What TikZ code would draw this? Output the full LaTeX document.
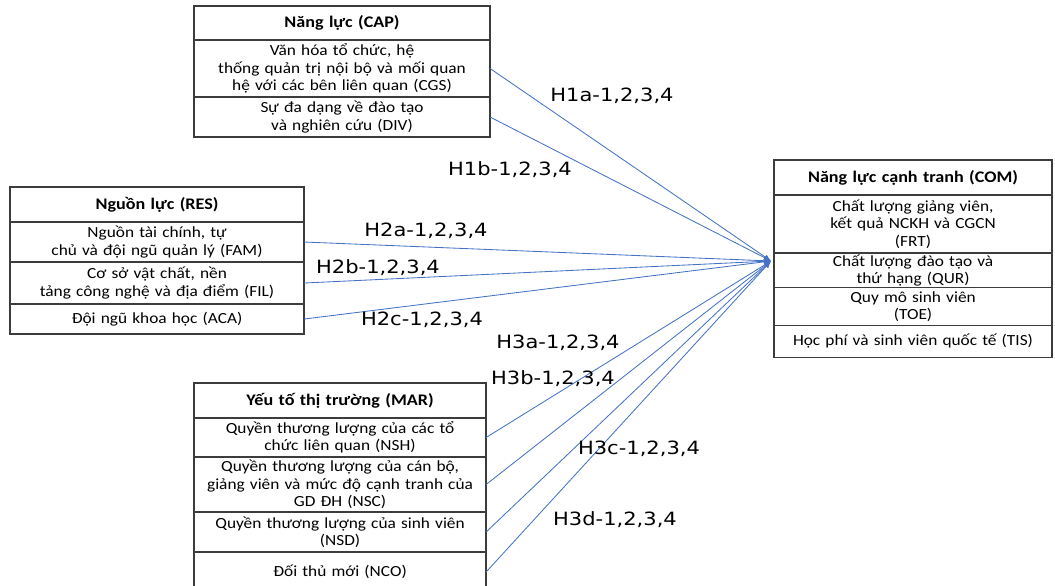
\documentclass[tikz,border=0pt]{standalone}
\usepackage{fontspec}
\setmainfont{Carlito}[FakeStretch=1.12]
\newfontfamily\hypfont{DejaVu Sans}[FakeStretch=1.15]
\usepackage{xcolor}
\usepackage{tikz}
\usetikzlibrary{positioning,arrows.meta}
\definecolor{linkblue}{RGB}{68,114,196}
\definecolor{boxgray}{RGB}{60,60,60}

\begin{document}
\begin{tikzpicture}[
        x=0.025cm, y=-0.025cm,
        node distance=0pt,
        every node/.style={font=\fontsize{11}{12.3}\selectfont},
        cell/.style={rectangle, draw=boxgray, line width=1.2pt, outer sep=0pt, inner xsep=0pt, inner ysep=1pt, align=center, text width=#1},
        head/.style={cell=#1, font=\fontsize{11.5}{13}\selectfont\bfseries},
        link/.style={linkblue, line width=0.6pt, -{Latex[length=5pt,width=4pt]}},
        hyp/.style={font=\hypfont\fontsize{13}{15}\selectfont}
    ]
        \useasboundingbox (0,0) rectangle (1055,586);

        % Nang luc
        \node[head=7.4cm, minimum height=0.85cm, anchor=north west] (cap) at (194,6) {Năng lực (CAP)};
        \node[cell=7.4cm, minimum height=1.425cm, below=of cap] (cgs) {Văn hóa tổ chức, hệ\\thống quản trị nội bộ và mối quan\\hệ với các bên liên quan (CGS)};
        \node[cell=7.4cm, minimum height=1.0cm, below=of cgs] (div) {Sự đa dạng về đào tạo\\và nghiên cứu (DIV)};

        % Nguon luc
        \node[head=7.35cm, minimum height=0.875cm, anchor=north west] (res) at (10,187) {Nguồn lực (RES)};
        \node[cell=7.35cm, minimum height=1.0cm, below=of res] (fam) {Nguồn tài chính, tự\\chủ và đội ngũ quản lý (FAM)};
        \node[cell=7.35cm, minimum height=1.05cm, below=of fam] (fil) {Cơ sở vật chất, nền\\tảng công nghệ và địa điểm (FIL)};
        \node[cell=7.35cm, minimum height=0.75cm, below=of fil] (aca) {Đội ngũ khoa học (ACA)};

        % Yeu to thi truong
        \node[head=7.3cm, minimum height=0.875cm, anchor=north west] (mar) at (194,383) {Yếu tố thị trường (MAR)};
        \node[cell=7.3cm, minimum height=0.975cm, below=of mar] (nsh) {Quyền thương lượng của các tổ\\chức liên quan (NSH)};
        \node[cell=7.3cm, minimum height=1.375cm, below=of nsh] (nsc) {Quyền thương lượng của cán bộ,\\giảng viên và mức độ cạnh tranh của\\GD ĐH (NSC)};
        \node[cell=7.3cm, minimum height=1.0cm, below=of nsc] (nsd) {Quyền thương lượng của sinh viên\\(NSD)};
        \node[cell=7.3cm, minimum height=1.0cm, below=of nsd] (nco) {Đối thủ mới (NCO)};

        % Nang luc canh tranh
        \node[head=6.95cm, minimum height=0.875cm, anchor=north west] (com) at (774,160) {Năng lực cạnh tranh (COM)};
        \node[cell=6.95cm, minimum height=1.45cm, below=of com] (frt) {Chất lượng giảng viên,\\kết quả NCKH và CGCN\\(FRT)};
        \node[cell=6.95cm, minimum height=0.85cm, below=of frt] (qur) {Chất lượng đào tạo và\\thứ hạng (QUR)};
        \node[cell=6.95cm, minimum height=0.95cm, below=of qur] (toe) {Quy mô sinh viên\\(TOE)};
        \node[cell=6.95cm, minimum height=0.8cm, below=of toe] (tis) {Học phí và sinh viên quốc tế (TIS)};

        \coordinate (hub) at (771,261);

        \draw[link] (cgs.east) -- (hub);
        \draw[link] (div.east) -- (hub);
        \draw[link] (fam.east) -- (hub);
        \draw[link] (fil.east) -- (hub);
        \draw[link] (aca.east) -- (hub);
        \draw[link] (nsh.east) -- (hub);
        \draw[link] (nsc.east) -- (hub);
        \draw[link] (nsd.east) -- (hub);
        \draw[link] (nco.east) -- (hub);

        % hypotheses
        \node[hyp] (h1a) at (612,96) {H1a-1,2,3,4};
        \node[hyp] (h1b) at (510,170) {H1b-1,2,3,4};
        \node[hyp] (h2a) at (426,231) {H2a-1,2,3,4};
        \node[hyp] (h2b) at (378,268) {H2b-1,2,3,4};
        \node[hyp] (h2c) at (422,320) {H2c-1,2,3,4};
        \node[hyp] (h3a) at (558,343) {H3a-1,2,3,4};
        \node[hyp] (h3b) at (553,379) {H3b-1,2,3,4};
        \node[hyp] (h3c) at (639,449) {H3c-1,2,3,4};
        \node[hyp] (h3d) at (615,520) {H3d-1,2,3,4};
    \end{tikzpicture}
\end{document}
